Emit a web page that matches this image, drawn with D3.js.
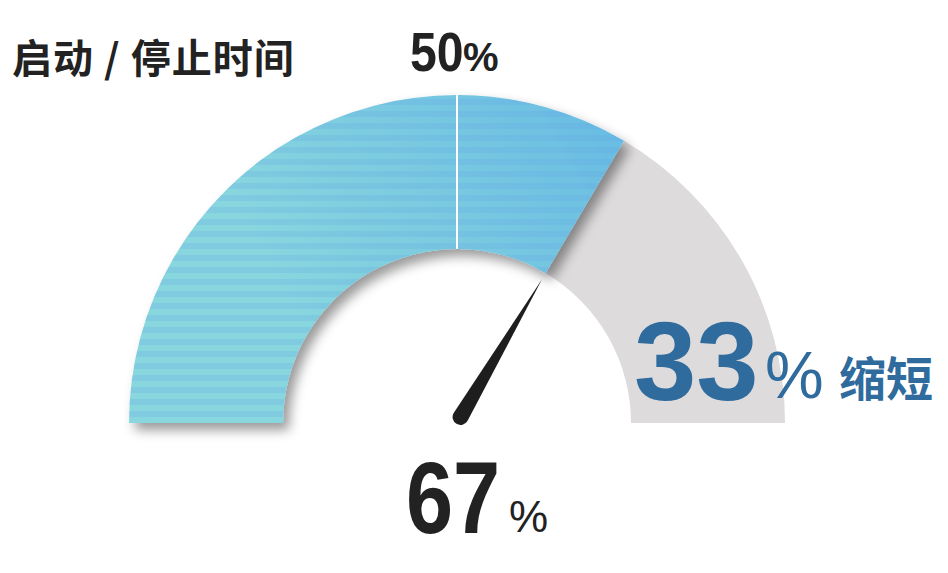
<!DOCTYPE html>
<html>
<head>
<meta charset="utf-8">
<script src="https://cdn.jsdelivr.net/npm/d3@7"></script>
<style>
  body { margin: 0; background: #fff; }
  svg { display: block; }
</style>
</head>
<body>
<svg id="chart" width="948" height="573"></svg>
<script>
// 数据
let segmentNames = ['已缩短', '剩余'];
let segmentValues = [67, 33];
let markerValue = 50;
let needleValue = 67;
let titleText = '启动 / 停止时间';
let markerLabel = '50';
let savedLabel = '33';
let savedWord = '缩短';
let needleLabel = '67';

let svg = d3.select('#chart');

let cx = 457;
let cy = 423;
let outerR = 328;
let innerR = 174;

// 0..100 -> -90°..90°
let angle = d3.scaleLinear().domain([0, 100]).range([-Math.PI / 2, Math.PI / 2]);

let defs = svg.append('defs');

let grad = defs.append('linearGradient')
  .attr('id', 'blueGrad')
  .attr('gradientUnits', 'userSpaceOnUse')
  .attr('x1', 130).attr('y1', 400)
  .attr('x2', 620).attr('y2', 120);
grad.append('stop').attr('offset', '0%').attr('stop-color', '#88d6de');
grad.append('stop').attr('offset', '55%').attr('stop-color', '#6fc1e2');
grad.append('stop').attr('offset', '100%').attr('stop-color', '#54aae6');

let stripes = defs.append('pattern')
  .attr('id', 'stripes')
  .attr('patternUnits', 'userSpaceOnUse')
  .attr('width', 20).attr('height', 12);
stripes.append('rect')
  .attr('width', 20).attr('height', 6)
  .attr('fill', '#5f9fe6');

let shadow = defs.append('filter')
  .attr('id', 'shadow')
  .attr('x', '-10%').attr('y', '-10%')
  .attr('width', '130%').attr('height', '130%');
shadow.append('feDropShadow')
  .attr('dx', 6).attr('dy', 7)
  .attr('stdDeviation', 6)
  .attr('flood-color', '#000')
  .attr('flood-opacity', 0.4);

let gauge = svg.append('g')
  .attr('transform', `translate(${cx}, ${cy})`);

let arc = d3.arc()
  .innerRadius(innerR)
  .outerRadius(outerR);

let stops = d3.cumsum(segmentValues);

// 灰色部分（剩余）
gauge.append('path')
  .attr('d', arc({ startAngle: angle(stops[0]), endAngle: angle(stops[1]) }))
  .attr('fill', '#dddbdc');

// 蓝色部分
let blueG = gauge.append('g').attr('filter', 'url(#shadow)');
blueG.append('path')
  .attr('d', arc({ startAngle: angle(0), endAngle: angle(stops[0]) }))
  .attr('fill', 'url(#blueGrad)');
gauge.append('path')
  .attr('d', arc({ startAngle: angle(0), endAngle: angle(stops[0]) }))
  .attr('fill', 'url(#stripes)')
  .attr('opacity', 0.2);

// 50% 标记线
let ma = angle(markerValue);
gauge.append('line')
  .attr('x1', innerR * Math.sin(ma)).attr('y1', -innerR * Math.cos(ma))
  .attr('x2', outerR * Math.sin(ma)).attr('y2', -outerR * Math.cos(ma))
  .attr('stroke', '#fff')
  .attr('stroke-width', 2);

// 指针
let needleLen = 160;
let baseR = 8;
gauge.append('path')
  .attr('transform', `rotate(${angle(needleValue) * 180 / Math.PI}) translate(0, -7)`)
  .attr('d', `M ${-baseR} 0 L 0 ${-needleLen} L ${baseR} 0 A ${baseR} ${baseR} 0 0 1 ${-baseR} 0 Z`)
  .attr('fill', '#1e1e1e');

// 文字
let cjk = "'Noto Sans CJK SC', 'Noto Sans', sans-serif";
let num = "'Liberation Sans', Arial, sans-serif";

svg.append('text')
  .attr('x', 12).attr('y', 73)
  .attr('font-family', cjk)
  .attr('font-weight', 700)
  .attr('font-size', 40)
  .attr('letter-spacing', 1)
  .attr('fill', '#222')
  .text(titleText);

let t50 = svg.append('g').attr('transform', 'translate(410, 71) scale(0.86, 1)');
t50.append('text')
  .attr('font-family', num)
  .attr('font-weight', 700)
  .attr('font-size', 56)
  .attr('fill', '#222')
  .text(markerLabel);
svg.append('text')
  .attr('x', 463).attr('y', 71)
  .attr('font-family', num)
  .attr('font-weight', 700)
  .attr('font-size', 40)
  .attr('fill', '#222')
  .text('%');

let blueText = '#2f6b9d';
svg.append('text')
  .attr('x', 634).attr('y', 400)
  .attr('font-family', num)
  .attr('font-weight', 700)
  .attr('font-size', 112)
  .attr('fill', blueText)
  .text(savedLabel);
svg.append('text')
  .attr('x', 765).attr('y', 398)
  .attr('font-family', num)
  .attr('font-size', 66)
  .attr('fill', blueText)
  .text('%');
svg.append('text')
  .attr('x', 839).attr('y', 396)
  .attr('font-family', cjk)
  .attr('font-weight', 700)
  .attr('font-size', 47)
  .attr('fill', blueText)
  .text(savedWord);

let t67 = svg.append('g').attr('transform', 'translate(406, 533) scale(0.83, 1)');
t67.append('text')
  .attr('font-family', num)
  .attr('font-weight', 700)
  .attr('font-size', 102)
  .attr('fill', '#222')
  .text(needleLabel);
svg.append('text')
  .attr('x', 509).attr('y', 532)
  .attr('font-family', num)
  .attr('font-size', 44)
  .attr('fill', '#222')
  .text('%');
</script>
</body>
</html>
